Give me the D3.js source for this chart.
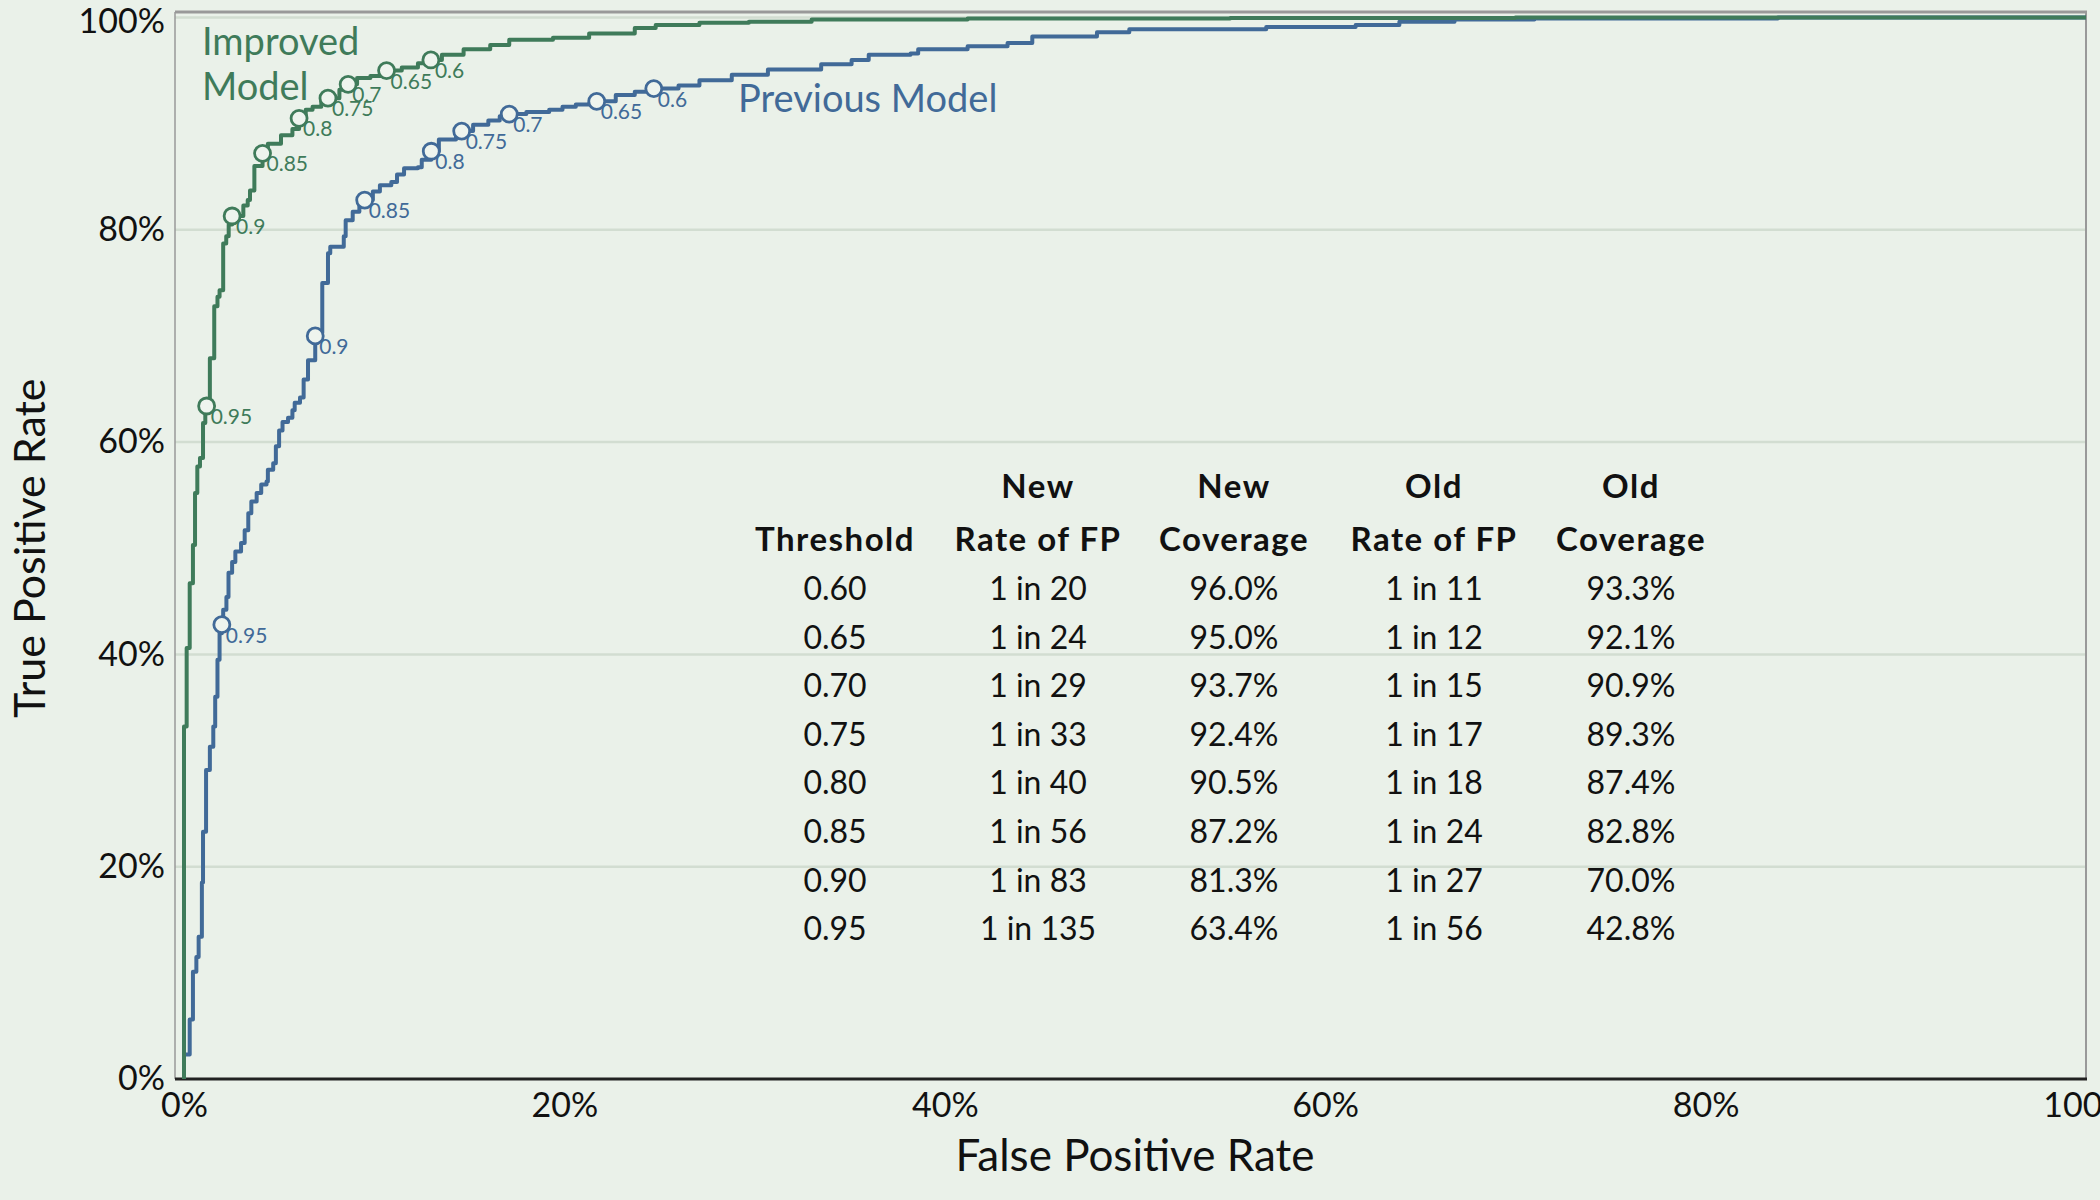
<!DOCTYPE html>
<html><head><meta charset="utf-8">
<script src="https://cdn.jsdelivr.net/npm/d3@7"></script>
<style>
html,body{margin:0;padding:0;background:#eaf1e9;}
svg{display:block;font-family:Lato,"Noto Sans",sans-serif;}
</style></head>
<body>
<svg id="chart" width="2100" height="1200"></svg>
<script>
// ---- data (FPR %, TPR %) ----
const improvedFpr = [0,0,0.14,0.3,0.47,0.58,0.7,0.84,1.0,1.12,1.19,1.36,1.59,1.76,1.87,2.06,2.22,2.35,2.53,3.12,3.35,3.47,3.7,4.13,4.41,5.1,5.7,6.05,6.4,6.76,7.22,7.57,8.17,8.63,9.1,9.8,10.65,11.45,12.3,12.98,13.56,14.7,16.1,17.1,19.4,21.3,23.7,24.8,27.1,29.7,33,41.2,55,70,100];
const improvedTpr = [0,33.2,40.6,46.7,50.3,55.2,57.7,58.5,61.8,63.0,63.4,67.9,72.8,73.7,74.3,78.7,79.4,80.5,81.3,82.3,82.8,83.7,86.0,87.2,88.1,88.9,89.5,90.5,91.3,91.6,92.1,92.4,93.2,93.7,94.3,94.5,95.0,95.3,95.7,96.0,96.5,97.0,97.4,97.9,98.1,98.5,99.0,99.3,99.5,99.6,99.8,99.9,99.95,100,100];
const previousFpr = [0,0,0.3,0.47,0.65,0.77,0.94,1.0,1.16,1.36,1.54,1.64,1.76,1.87,1.99,2.06,2.23,2.34,2.53,2.70,3.0,3.19,3.38,3.54,3.82,4.06,4.34,4.41,4.69,4.83,5.0,5.18,5.47,5.7,5.82,6.1,6.29,6.52,6.9,7.1,7.27,7.57,7.69,8.4,8.5,8.87,9.22,9.5,9.93,10.3,10.9,11.2,11.57,12.3,12.5,13.0,13.4,14.3,14.6,15.2,16.0,16.6,17.1,18.0,19.2,19.9,20.6,21.3,21.7,22.7,23.7,24.7,26.0,27.1,28.8,30.7,33.5,35.1,36.0,38.2,38.6,41.2,43.3,44.6,48.0,49.7,56.9,61.6,63.9,66.8,71.0,83.8,100];
const previousTpr = [0,2.3,5.6,10.1,11.5,13.4,18.5,23.3,29.1,31.3,33.2,36.0,39.5,42.0,42.8,44.2,45.4,47.7,48.7,49.7,50.5,51.7,53.3,54.4,55.2,56.0,56.3,57.4,58.0,59.6,61.1,61.9,62.3,63.0,63.7,64.2,65.9,67.7,70.0,70.3,75.0,77.8,78.4,79.4,80.9,81.7,82.3,82.8,83.6,84.2,84.5,85.2,85.8,85.9,86.6,87.4,88.5,89.1,89.3,89.9,90.3,90.7,90.9,91.1,91.3,91.6,91.8,91.9,92.1,92.7,93.0,93.3,93.6,94.1,94.6,95.1,95.6,96.0,96.5,96.6,97.0,97.3,97.6,98.2,98.6,98.9,99.1,99.3,99.6,99.8,99.9,100,100];

const thresholds = ["0.60","0.65","0.70","0.75","0.80","0.85","0.90","0.95"];
const markerLabels = ["0.6","0.65","0.7","0.75","0.8","0.85","0.9","0.95"];
const newMarkerFpr = [12.98,10.65,8.63,7.57,6.05,4.13,2.53,1.19];
const newCoverage = [96.0,95.0,93.7,92.4,90.5,87.2,81.3,63.4];
const oldMarkerFpr = [24.7,21.7,17.1,14.6,13.0,9.5,6.9,1.99];
const oldCoverage = [93.3,92.1,90.9,89.3,87.4,82.8,70.0,42.8];
const newRate = ["1 in 20","1 in 24","1 in 29","1 in 33","1 in 40","1 in 56","1 in 83","1 in 135"];
const oldRate = ["1 in 11","1 in 12","1 in 15","1 in 17","1 in 18","1 in 24","1 in 27","1 in 56"];
const headLine1 = ["","New","New","Old","Old"];
const headLine2 = ["Threshold","Rate of FP","Coverage","Rate of FP","Coverage"];
const yTicks = [0,20,40,60,80,100];
const xTicks = [0,20,40,60,80,100];

// ---- layout ----
const svg = d3.select("#chart");
const GREEN = "#3f7b5a", BLUE = "#416a98", BG = "#eaf1e9";
const frameL = 175, frameT = 12, frameR = 2086, frameB = 1079;
const x = d3.scaleLinear().domain([0,100]).range([184, 2086]);
const y = d3.scaleLinear().domain([0,100]).range([1079, 17.5]);

svg.append("rect").attr("width",2100).attr("height",1200).attr("fill",BG);

// grid
svg.append("g").selectAll("line").data(yTicks.filter(d=>d>0)).join("line")
  .attr("x1",frameL).attr("x2",frameR).attr("y1",d=>y(d)).attr("y2",d=>y(d))
  .attr("stroke","#d2ddd1").attr("stroke-width",2.5);

// frame
svg.append("line").attr("x1",frameL).attr("x2",frameR+1).attr("y1",frameT).attr("y2",frameT).attr("stroke","#999").attr("stroke-width",3);
svg.append("line").attr("x1",frameR).attr("x2",frameR).attr("y1",frameT).attr("y2",frameB).attr("stroke","#999").attr("stroke-width",2);
svg.append("line").attr("x1",frameL).attr("x2",frameL).attr("y1",frameT).attr("y2",frameB).attr("stroke","#999").attr("stroke-width",1.5);

// axes
const yAxis = svg.append("g").attr("transform",`translate(${frameL},0)`)
  .call(d3.axisLeft(y).tickValues(yTicks).tickFormat(d=>d+"%").tickSize(0).tickPadding(10));
yAxis.select(".domain").remove();
yAxis.selectAll("text").attr("font-size",34).attr("fill","#111").attr("font-family","Lato");
yAxis.selectAll(".tick").filter(d=>d===100).select("text").attr("dy","0.45em");

const xAxis = svg.append("g").attr("transform",`translate(0,${frameB})`)
  .call(d3.axisBottom(x).tickValues(xTicks).tickFormat(d=>d+"%").tickSize(0).tickPadding(14));
xAxis.select(".domain").remove();
xAxis.selectAll("text").attr("font-size",34).attr("fill","#111").attr("font-family","Lato");

svg.append("line").attr("x1",frameL).attr("x2",frameR+1).attr("y1",frameB).attr("y2",frameB).attr("stroke","#222").attr("stroke-width",3);

svg.append("text").attr("x",(x(0)+x(100))/2).attr("y",1171).attr("text-anchor","middle")
  .attr("font-size",44).attr("fill","#111").text("False Positive Rate");
svg.append("text").attr("transform",`translate(45,${(y(0)+y(100))/2}) rotate(-90)`).attr("text-anchor","middle")
  .attr("font-size",43).attr("fill","#111").text("True Positive Rate");

// curves
const line = d3.line().x(d=>x(d[0])).y(d=>y(d[1])).curve(d3.curveStepAfter);
const series = [
  {fpr: previousFpr, tpr: previousTpr, color: BLUE, mf: oldMarkerFpr, mt: oldCoverage},
  {fpr: improvedFpr, tpr: improvedTpr, color: GREEN, mf: newMarkerFpr, mt: newCoverage}
];
series.forEach(s=>{
  const pts = s.fpr.map((f,i)=>[f, s.tpr[i]]);
  svg.append("path").datum(pts).attr("d",line).attr("fill","none")
    .attr("stroke",s.color).attr("stroke-width",4).attr("stroke-linejoin","round");
});
series.forEach(s=>{
  const g = svg.append("g");
  const m = s.mf.map((f,i)=>({f, t:s.mt[i], l:markerLabels[i]}));
  g.selectAll("circle").data(m).join("circle")
    .attr("cx",d=>x(d.f)).attr("cy",d=>y(d.t)).attr("r",8)
    .attr("fill","#eef4ee").attr("stroke",s.color).attr("stroke-width",2.8);
  g.selectAll("text").data(m).join("text")
    .attr("x",d=>x(d.f)+4).attr("y",d=>y(d.t)+18)
    .attr("font-size",21).attr("fill",s.color).text(d=>d.l);
});

// series labels
const imp = svg.append("text").attr("font-size",38).attr("fill",GREEN);
imp.append("tspan").attr("x",202).attr("y",55).text("Improved");
imp.append("tspan").attr("x",202).attr("y",100).text("Model");
svg.append("text").attr("x",738).attr("y",112).attr("font-size",38).attr("fill",BLUE).text("Previous Model");

// table
const colX = [835, 1038, 1234, 1434, 1631];
const tbl = svg.append("g").attr("font-size",32).attr("fill","#111").attr("text-anchor","middle");
headLine1.forEach((h,i)=>tbl.append("text").attr("x",colX[i]).attr("y",498).attr("font-weight","bold").attr("font-size",33).attr("letter-spacing",1.5).text(h));
headLine2.forEach((h,i)=>tbl.append("text").attr("x",colX[i]).attr("y",551).attr("font-weight","bold").attr("font-size",33).attr("letter-spacing",1.5).text(h));
thresholds.forEach((t,r)=>{
  const row = [t, newRate[r], newCoverage[r].toFixed(1)+"%", oldRate[r], oldCoverage[r].toFixed(1)+"%"];
  row.forEach((v,i)=>tbl.append("text").attr("x",colX[i]).attr("y",600+r*48.6).text(v));
});
</script>
</body></html>
